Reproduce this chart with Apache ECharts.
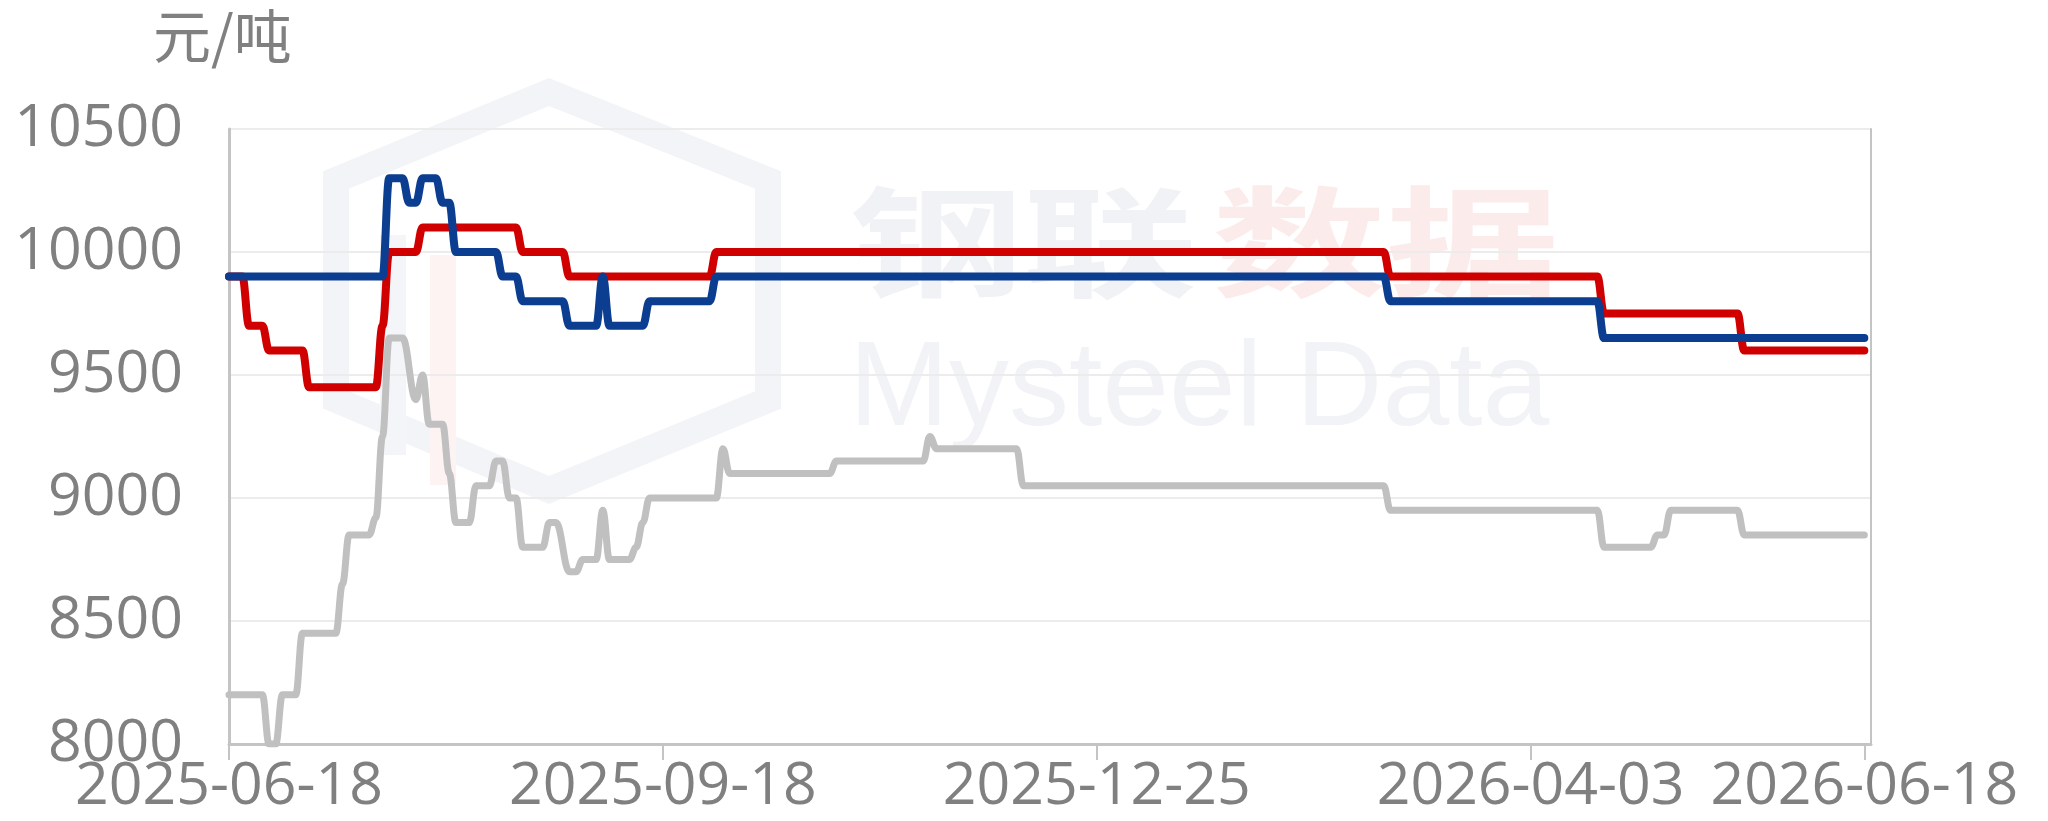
<!DOCTYPE html>
<html>
<head>
<meta charset="utf-8">
<title>价格走势</title>
<script src="https://cdn.jsdelivr.net/npm/echarts@6/dist/echarts.min.js"></script>
<style>
  html, body { margin: 0; padding: 0; background: #fff; }
  #chart { width: 2048px; height: 821px; }
</style>
</head>
<body>
<div id="chart"></div>
<script>
// x positions are trading-day indices; labels shown at a few of them
const xTickIdx = [0, 65, 130, 195, 245];
const xTickLabels = ['2025-06-18', '2025-09-18', '2025-12-25', '2026-04-03', '2026-06-18'];

// [index, 元/吨] at each change point
const redPts = [
  [0, 9900], [2, 9900], [3, 9700], [5, 9700], [6, 9600], [11, 9600], [12, 9450], [22, 9450],
  [23, 9700], [24, 10000], [28, 10000], [29, 10100], [43, 10100], [44, 10000], [50, 10000],
  [51, 9900], [72, 9900], [73, 10000], [173, 10000], [174, 9900], [205, 9900], [206, 9750],
  [226, 9750], [227, 9600], [245, 9600]
];
const bluePts = [
  [0, 9900], [23, 9900], [24, 10300], [26, 10300], [27, 10200], [28, 10200], [29, 10300],
  [31, 10300], [32, 10200], [33, 10200], [34, 10000], [40, 10000], [41, 9900], [43, 9900],
  [44, 9800], [50, 9800], [51, 9700], [55, 9700], [56, 9900], [57, 9700], [62, 9700],
  [63, 9800], [72, 9800], [73, 9900], [173, 9900], [174, 9800], [205, 9800], [206, 9650],
  [245, 9650]
];
const greyPts = [
  [0, 8200], [5, 8200], [6, 8000], [7, 8000], [8, 8200], [10, 8200], [11, 8450], [16, 8450],
  [17, 8650], [18, 8850], [21, 8850], [22, 8920], [23, 9250], [24, 9650], [26, 9650],
  [28, 9400], [29, 9500], [30, 9300], [32, 9300], [33, 9100], [34, 8900], [36, 8900],
  [37, 9050], [39, 9050], [40, 9150], [41, 9150], [42, 9000], [43, 9000], [44, 8800],
  [47, 8800], [48, 8900], [49, 8900], [51, 8700], [52, 8700], [53, 8750], [55, 8750],
  [56, 8950], [57, 8750], [60, 8750], [61, 8800], [62, 8900], [63, 9000], [73, 9000],
  [74, 9200], [75, 9100], [90, 9100], [91, 9150], [104, 9150], [105, 9250], [106, 9200],
  [118, 9200], [119, 9050], [173, 9050], [174, 8950], [205, 8950], [206, 8800], [213, 8800],
  [214, 8850], [215, 8850], [216, 8950], [226, 8950], [227, 8850], [245, 8850]
];

const chart = echarts.init(document.getElementById('chart'));

const labelGrey = '#808080';
const axisGrey = '#c4c4c4';

function lineSeries(name, pts, color, width) {
  return {
    name: name,
    type: 'line',
    data: pts,
    symbol: 'none',
    showSymbol: false,
    smooth: 0.4,
    smoothMonotone: 'x',
    lineStyle: { color: color, width: width, join: 'round', cap: 'round' },
    itemStyle: { color: color }
  };
}

chart.setOption({
  animation: false,
  backgroundColor: '#ffffff',
  title: {
    text: '元/吨',
    left: 148,
    top: 2,
    textStyle: { fontSize: 58, fontWeight: 'normal', color: labelGrey, fontFamily: 'Noto Sans CJK SC' }
  },
  grid: { left: 229, right: 177, top: 129, bottom: 77, containLabel: false },
  graphic: [
    {
      type: 'polygon', z: -10, silent: true,
      shape: { points: [[549, 92], [768, 180], [768, 400], [549, 490], [336, 400], [336, 180]] },
      style: { fill: 'none', stroke: '#f3f4f8', lineWidth: 26 }
    },
    {
      type: 'rect', z: -10, silent: true,
      shape: { x: 430, y: 255, width: 26, height: 230 },
      style: { fill: '#fdf3f3' }
    },
    {
      type: 'rect', z: -10, silent: true,
      shape: { x: 380, y: 235, width: 26, height: 220 },
      style: { fill: '#f4f5f8' }
    },
    {
      type: 'text', z: -10, silent: true, x: 849, y: 182, scaleX: 1.45,
      style: { text: '钢联', fill: '#f1f2f6', font: 'bold 120px "Noto Sans CJK SC"' }
    },
    {
      type: 'text', z: -10, silent: true, x: 1212, y: 182, scaleX: 1.45,
      style: { text: '数据', fill: '#fcebeb', font: 'bold 120px "Noto Sans CJK SC"' }
    },
    {
      type: 'text', z: -10, silent: true, x: 849, y: 332,
      style: { text: 'Mysteel Data', fill: '#f2f3f7', font: '120px "Liberation Sans"' }
    }
  ],
  xAxis: {
    type: 'value',
    min: 0,
    max: 246,
    axisLine: { show: true, lineStyle: { color: axisGrey, width: 3 } },
    axisTick: { show: true, customValues: xTickIdx, length: 16, lineStyle: { color: axisGrey, width: 2 } },
    axisLabel: {
      customValues: xTickIdx,
      formatter: function (v) {
        const i = xTickIdx.indexOf(Math.round(v));
        return i >= 0 ? xTickLabels[i] : '';
      },
      color: labelGrey,
      fontSize: 59,
      fontFamily: 'Open Sans',
      margin: 14
    },
    splitLine: { show: false }
  },
  yAxis: [
    {
      type: 'value',
      min: 8000,
      max: 10500,
      interval: 500,
      axisLine: { show: true, lineStyle: { color: axisGrey, width: 3 } },
      axisTick: { show: false },
      axisLabel: {
        color: labelGrey, fontSize: 59, fontFamily: 'Open Sans', margin: 46,
        formatter: function (v) { return String(v); }
      },
      splitLine: { show: true, lineStyle: { color: '#ececec', width: 2 } }
    },
    {
      type: 'value',
      position: 'right',
      min: 8000,
      max: 10500,
      interval: 500,
      axisLine: { show: true, lineStyle: { color: axisGrey, width: 2 } },
      axisTick: { show: false },
      axisLabel: { show: false },
      splitLine: { show: false }
    }
  ],
  series: [
    lineSeries('grey', greyPts, '#c0c0c0', 7),
    lineSeries('red', redPts, '#d00000', 8),
    lineSeries('blue', bluePts, '#0b3d91', 8)
  ]
});
</script>
</body>
</html>
